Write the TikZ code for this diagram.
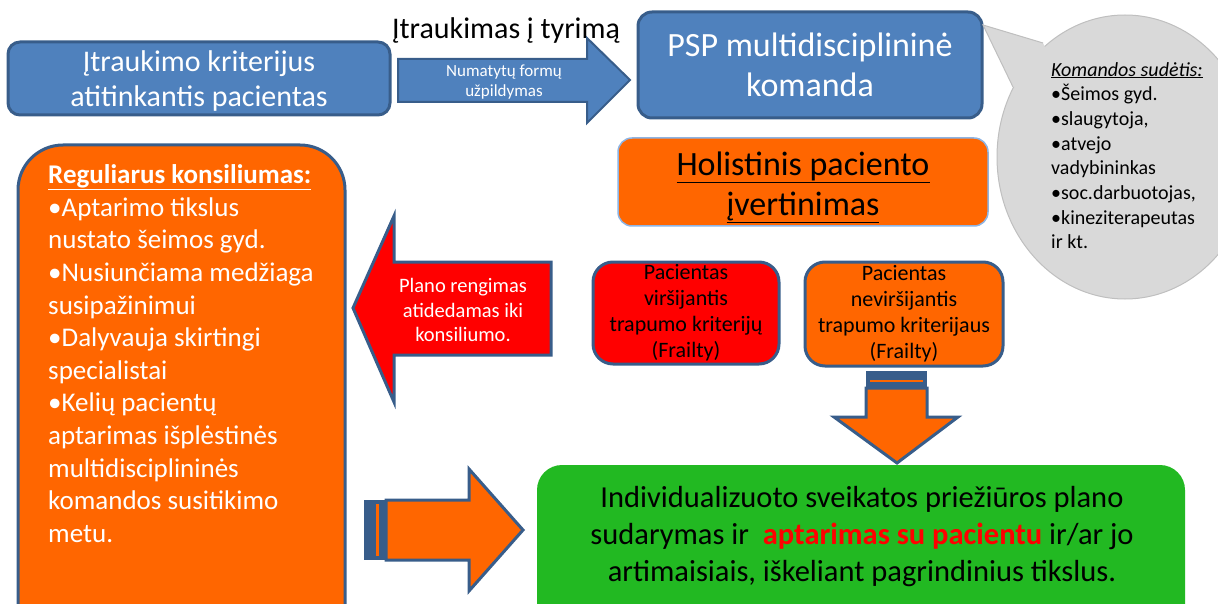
\documentclass[tikz,border=0pt]{standalone}
\usepackage{fontspec}
\setmainfont{Carlito}
\usetikzlibrary{shapes.geometric}

\definecolor{melyna}{HTML}{4F81BD}
\definecolor{kontur}{HTML}{385D8A}
\definecolor{oranz}{HTML}{FF6600}
\definecolor{raud}{HTML}{FF0000}
\definecolor{zalia}{HTML}{22B922}
\definecolor{pilka}{HTML}{D9D9D9}
\definecolor{pilkakr}{HTML}{BFBFBF}
\definecolor{sviesi}{HTML}{8EB4E3}

\newcommand{\fs}[2]{\fontsize{#1}{#2}\selectfont}

\tikzset{
  dezute/.style={draw=kontur, line width=3pt, rounded corners=#1, inner sep=0pt, align=center},
  dezute/.default=14pt,
  rodykle/.style={draw=kontur, line width=3pt},
  tekstas/.style={inner sep=0pt, align=center}
}

\begin{document}
\begin{tikzpicture}[x=1pt,y=-1pt]
  \clip (0,0) rectangle (1218,604);

  % 方框
  \node[dezute=12pt, fill=melyna, minimum width=382pt, minimum height=73pt] (kriterijus) at (199,78.5) {};
  \node[tekstas, text=white, font=\fs{30}{35}] (kriterijustxt) at (199,81.5)
        {Įtraukimo kriterijus\\atitinkantis pacientas};
  \node[tekstas, font=\fs{30}{32}] (tyrimas) at (506,31) {Įtraukimas į tyrimą};

  \node[dezute, fill=melyna, minimum width=344pt, minimum height=106pt,
        text=white, font=\fs{34}{40}] (komanda) at (810,65)
        {PSP multidisciplininė\\komanda};

  % 气泡
  \node[ellipse, fill=pilka, draw=pilkakr, line width=1pt,
        minimum width=256pt, minimum height=284pt] (sudetis) at (1125,157) {};
  \fill[pilka] (983,25) -- (1043,43) -- (1060,80) -- (1013,87) -- cycle;
  \draw[pilkakr, line width=1pt] (1043,43) -- (983,25) -- (1013,87);
  \node[anchor=north west, inner sep=0pt, align=left, font=\fs{20}{24.7}] (sarasas) at (1051,62)
        {\underline{\textit{Komandos sudėtis:}}\\•Šeimos gyd.\\•slaugytoja,\\•atvejo\\vadybininkas\\
         •soc.darbuotojas,\\•kineziterapeutas\\ir kt.};

  \node[rounded corners=14pt, fill=oranz, draw=sviesi, line width=1.5pt, inner sep=0pt,
        minimum width=370pt, minimum height=88pt] (holistinis) at (803,182) {};
  \node[tekstas, font=\fs{34}{40}] (holistinistxt) at (803,187)
        {\underline{Holistinis paciento}\\\underline{įvertinimas}};

  \node[dezute=45pt, fill=oranz, minimum width=327pt, minimum height=520pt] (konsiliumas) at (181.5,405) {};
  \node[anchor=north west, inner sep=0pt, align=left, text=white, font=\fs{27}{32.6}] (konsiltxt) at (48,164.5)
        {\textbf{\underline{Reguliarus konsiliumas:}}\\•Aptarimo tikslus\\nustato šeimos gyd.\\
         •Nusiunčiama medžiaga\\susipažinimui\\•Dalyvauja skirtingi\\specialistai\\
         •Kelių pacientų\\aptarimas išplėstinės\\multidisciplininės\\komandos susitikimo\\metu.};

  \node[dezute=20pt, fill=raud, minimum width=186pt, minimum height=102pt, font=\fs{22}{26}]
        (virsija) at (686,313) {Pacientas\\viršijantis\\trapumo kriterijų\\(Frailty)};
  \node[dezute=20pt, fill=oranz, minimum width=198pt, minimum height=104pt, font=\fs{22}{26}]
        (neversija) at (904,314) {Pacientas\\neviršijantis\\trapumo kriterijaus\\(Frailty)};

  \node[fill=zalia, rounded corners=25pt, inner sep=0pt,
        minimum width=648pt, minimum height=200pt] (planas) at (861,565) {};
  \node[tekstas, font=\fs{30.5}{37}] (planastxt) at (862,537)
        {Individualizuoto sveikatos priežiūros plano\\
         sudarymas ir \ \textcolor{raud}{\textbf{aptarimas su pacientu}} ir/ar jo\\
         artimaisiais, iškeliant pagrindinius tikslus.};

  % 箭头
  \draw[rodykle, line width=2pt, fill=melyna] (398,59) -- (587,59) -- (587,38) -- (630,80)
        -- (587,123) -- (587,102) -- (398,102) -- cycle;
  \node[tekstas, text=white, font=\fs{17}{20}] (formos) at (504,82) {Numatytų formų\\užpildymas};

  \draw[rodykle, fill=raud] (353,308) -- (394,216) -- (394,262) -- (551,262)
        -- (551,355) -- (394,355) -- (394,402) -- cycle;
  \node[tekstas, text=white, font=\fs{20.5}{24.5}] (atidedamas) at (463,310)
        {Plano rengimas\\atidedamas iki\\konsiliumo.};

  \fill[kontur] (866,371) rectangle (927,389);
  \draw[oranz, line width=2pt] (870,381) -- (923,381);
  \draw[rodykle, fill=oranz] (866,388) -- (866,417) -- (834,417) -- (897,463)
        -- (958,417) -- (927,417) -- (927,388) -- cycle;

  \fill[kontur] (364,500) rectangle (387,560);
  \draw[oranz, line width=3pt] (377,504) -- (377,556);
  \draw[rodykle, fill=oranz] (386,500) -- (469,500) -- (469,469) -- (523,530)
        -- (469,591) -- (469,560) -- (386,560) -- cycle;
\end{tikzpicture}
\end{document}
